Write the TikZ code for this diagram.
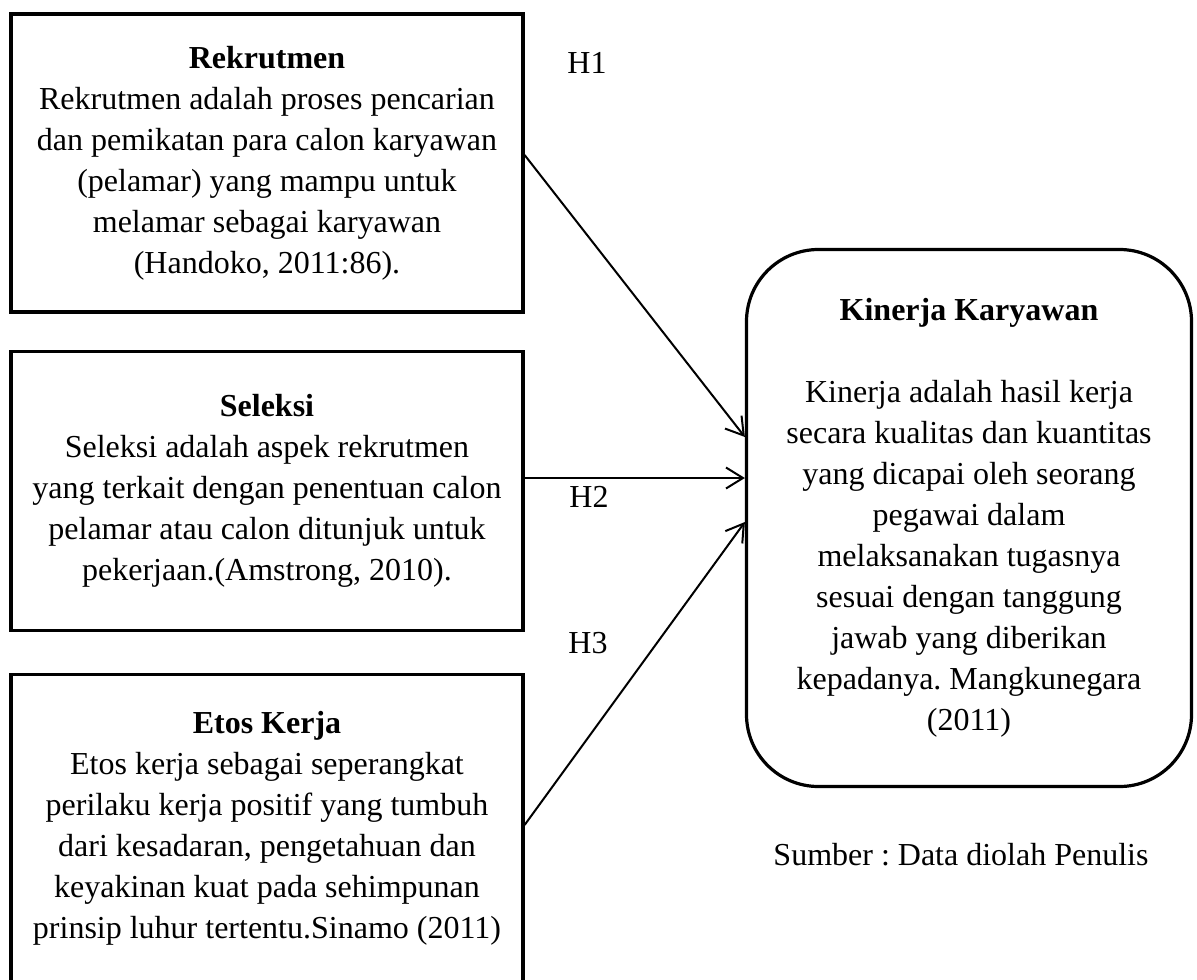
\documentclass[tikz,border=0pt]{standalone}
\usepackage{fontspec}
\setmainfont{Liberation Serif}
\usetikzlibrary{arrows.meta}
\frenchspacing
\begin{document}
\begin{tikzpicture}[x=1pt,y=-1pt,
  txt/.style={font=\fontsize{32}{41}\selectfont\frenchspacing, align=center, inner sep=0pt},
  varbox/.style={txt, draw=black, line width=3.2pt, rectangle, minimum width=512pt},
  resbox/.style={txt, draw=black, line width=3.2pt, rectangle, rounded corners=72pt,
    minimum width=445pt, minimum height=537pt},
  arr/.style={line width=2pt, -{Straight Barb[length=17pt,width=21pt,line width=2pt]}},
  lbl/.style={font=\fontsize{32}{41}\selectfont\frenchspacing, inner sep=0pt}]
\useasboundingbox (0,0) rectangle (1197,980);
\begin{scope}
\clip (0,0) rectangle (1197,980);
\node[varbox, minimum height=298pt] (b1) at (267,163)
  {\textbf{Rekrutmen}\\Rekrutmen adalah proses pencarian\\dan pemikatan para calon karyawan\\(pelamar) yang mampu untuk\\melamar sebagai karyawan\\(Handoko, 2011:86).};
\node[varbox, minimum height=279pt] (b2) at (267,491)
  {\textbf{Seleksi}\\Seleksi adalah aspek rekrutmen\\yang terkait dengan penentuan calon\\pelamar atau calon ditunjuk untuk\\pekerjaan.(Amstrong, 2010).};
\node[varbox, minimum height=307pt] (b3) at (267,828)
  {\textbf{Etos Kerja}\\Etos kerja sebagai seperangkat\\perilaku kerja positif yang tumbuh\\dari kesadaran, pengetahuan dan\\keyakinan kuat pada sehimpunan\\prinsip luhur tertentu.Sinamo (2011)};
\end{scope}
\node[resbox] (k) at (969,518)
  {\textbf{Kinerja Karyawan}\\[41pt]Kinerja adalah hasil kerja\\secara kualitas dan kuantitas\\yang dicapai oleh seorang\\pegawai dalam\\melaksanakan tugasnya\\sesuai dengan tanggung\\jawab yang diberikan\\kepadanya. Mangkunegara\\(2011)};
\draw[arr] ([yshift=8pt]b1.east) -- ([yshift=81pt]k.west);
\draw[arr] ([yshift=13pt]b2.east) -- ([yshift=40pt]k.west);
\draw[arr] ([yshift=3pt]b3.east) -- ([yshift=-4pt]k.west);
\node[lbl] (h1) at (587,63) {H1};
\node[lbl] (h2) at (589,497) {H2};
\node[lbl] (h3) at (588,643) {H3};
\node[lbl] (src) at (961,855) {Sumber : Data diolah Penulis};
\end{tikzpicture}
\end{document}
